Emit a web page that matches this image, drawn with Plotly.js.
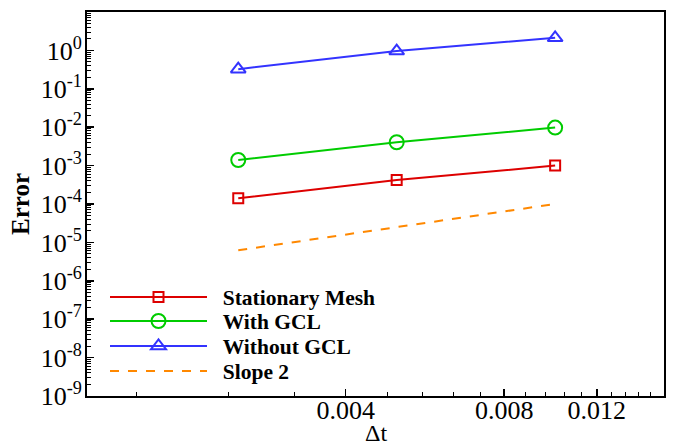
<!DOCTYPE html>
<html><head><meta charset="utf-8">
<script src="https://cdn.plot.ly/plotly-3.0.1.min.js"></script>
<style>html,body{margin:0;padding:0;background:#fff}#chart{width:680px;height:444px}</style>
</head><body><div id="chart"></div>
<script>
// ---- data ----
const dt = [0.0025, 0.005, 0.01];
const stationaryMesh = [1.41e-4, 4.2e-4, 1.0e-3];
const withGCL = [1.40e-3, 4.06e-3, 9.75e-3];
const withoutGCL = [0.325, 0.96, 2.13];
const slopeDt = [0.0025, 0.01];
const slope2 = [6.25e-6, 1.0e-4];
const seriesNames = ['Stationary Mesh', 'With GCL', 'Without GCL', 'Slope 2'];
const yTickVals = [1e-9, 1e-8, 1e-7, 1e-6, 1e-5, 1e-4, 1e-3, 1e-2, 1e-1, 1e0];
const yTickText = ['10<sup>-9</sup>', '10<sup>-8</sup>', '10<sup>-7</sup>', '10<sup>-6</sup>', '10<sup>-5</sup>',
                   '10<sup>-4</sup>', '10<sup>-3</sup>', '10<sup>-2</sup>', '10<sup>-1</sup>', '10<sup>0</sup>'];
const xTickVals = [0.004, 0.008, 0.012];
const xTickText = ['0.004', '0.008', '0.012'];
const xMinorVals = [0.0016, 0.0024, 0.0032, 0.0048, 0.0056, 0.0064, 0.0072,
                    0.0088, 0.0096, 0.0104, 0.0112, 0.0128, 0.0136, 0.0144, 0.0152];
const xTitle = 'Δt';
const yTitle = 'Error';

const serif = 'Liberation Serif, DejaVu Serif, serif';
const L = 87, R = 664, T = 12, B = 396;
function px2x(p) { return (p - L) / (R - L); }
function py2y(p) { return (B - p) / (B - T); }
const pad = '\u00a0\u00a0';

const traces = [
  {x: dt, y: stationaryMesh, name: pad + seriesNames[0], mode: 'lines+markers', legend: 'legend',
   line: {color: '#dd0000', width: 2}, marker: {symbol: 'square-open', size: 10, color: '#dd0000', line: {width: 2, color: '#dd0000'}}},
  {x: dt, y: withGCL, name: pad + seriesNames[1], mode: 'lines+markers', legend: 'legend2',
   line: {color: '#00cc00', width: 2}, marker: {symbol: 'circle-open', size: 14, color: '#00cc00', line: {width: 2, color: '#00cc00'}}},
  {x: dt, y: withoutGCL, name: pad + seriesNames[2], mode: 'lines+markers', legend: 'legend3',
   line: {color: '#3333ff', width: 2}, marker: {symbol: 'triangle-up-open', size: 13, color: '#3333ff', line: {width: 2, color: '#3333ff'}}},
  {x: slopeDt, y: slope2, name: pad + seriesNames[3], mode: 'lines', legend: 'legend4',
   line: {color: '#ff8800', width: 2, dash: '9px,9px'}}
];

function leg(py) {
  return {x: px2x(105), y: py2y(py), xanchor: 'left', yanchor: 'middle', bgcolor: 'rgba(0,0,0,0)',
          borderwidth: 0, itemwidth: 97, font: {family: serif, size: 21.5, color: '#000', weight: 'bold'}};
}

const layout = {
  width: 680, height: 444,
  margin: {l: L, r: 680 - R, t: T, b: 444 - B},
  paper_bgcolor: '#fff', plot_bgcolor: '#fff',
  showlegend: true,
  legend: leg(297), legend2: leg(321), legend3: leg(346), legend4: leg(371),
  xaxis: {
    type: 'log', range: [Math.log10(0.00129), Math.log10(0.0161)],
    tickmode: 'array', tickvals: xTickVals, ticktext: xTickText,
    ticks: 'inside', ticklen: 7, tickwidth: 1.5, tickcolor: '#000',
    minor: {tickmode: 'array', tickvals: xMinorVals, ticks: 'inside', ticklen: 4, tickwidth: 1, tickcolor: '#000', showgrid: false},
    showline: true, linecolor: '#000', linewidth: 2, mirror: true,
    showgrid: false, zeroline: false, ticklabelstandoff: -10,
    tickfont: {family: serif, size: 26, color: '#000'}
  },
  yaxis: {
    type: 'log', range: [-9, 1],
    tickmode: 'array', tickvals: yTickVals, ticktext: yTickText,
    ticks: 'inside', ticklen: 7, tickwidth: 1.5, tickcolor: '#000',
    minor: {dtick: 'D1', ticks: 'inside', ticklen: 4, tickwidth: 1, tickcolor: '#000', showgrid: false},
    showline: true, linecolor: '#000', linewidth: 2, mirror: true,
    showgrid: false, zeroline: false, ticklabelstandoff: -2,
    tickfont: {family: serif, size: 26, color: '#000'},
    title: {text: '<b>' + yTitle + '</b>', font: {family: serif, size: 25, color: '#000'}, standoff: 4}
  },
  annotations: [
    {text: xTitle, xref: 'paper', yref: 'paper', x: 0.5, y: py2y(433), xanchor: 'center', yanchor: 'middle',
     showarrow: false, borderpad: 0, font: {family: serif, size: 24, color: '#000'}}
  ]
};

Plotly.newPlot('chart', traces, layout, {displayModeBar: false, staticPlot: true});
</script></body></html>
